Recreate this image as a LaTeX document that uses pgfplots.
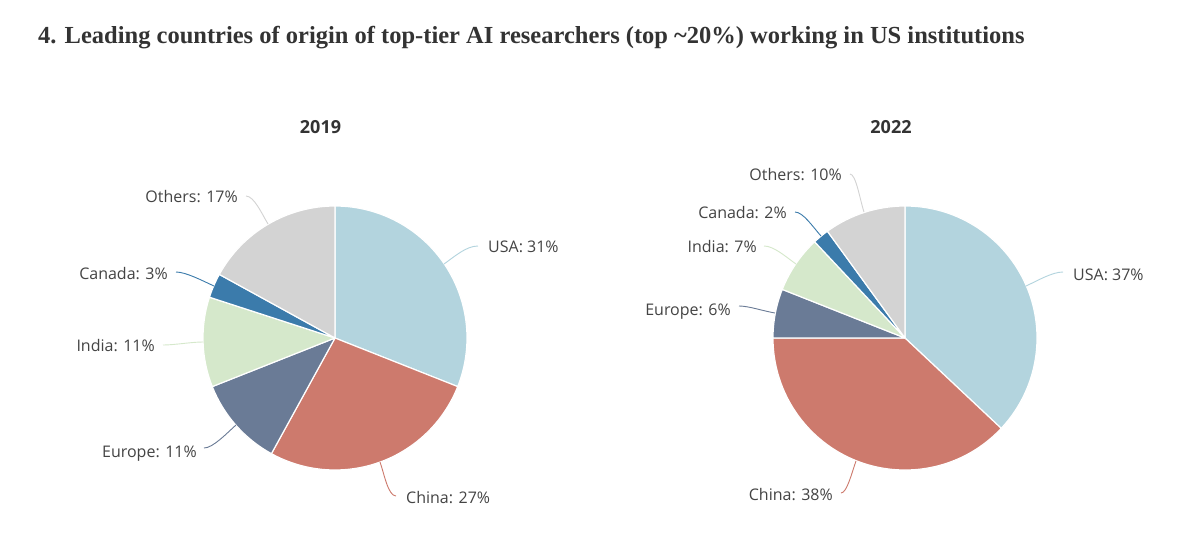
\documentclass[border=0pt]{standalone}
\usepackage{pgfplots}
\pgfplotsset{compat=1.18}
\usepackage{pgfplotstable}
\usepackage{fontspec}
\setmainfont{Open Sans}
\newfontfamily\titlefont{Liberation Serif}

\definecolor{pie0}{HTML}{B3D4DE}
\definecolor{pie1}{HTML}{CD7A6D}
\definecolor{pie2}{HTML}{6A7B96}
\definecolor{pie3}{HTML}{D5E8CB}
\definecolor{pie4}{HTML}{3B7BAB}
\definecolor{pie5}{HTML}{D3D3D3}
\definecolor{txt}{HTML}{444444}
\definecolor{ttl}{HTML}{333333}

% 2019
\pgfplotstableread{
name val
USA 31
China 27
Europe 11
India 11
Canada 3
Others 17
}\pieA
% 2022
\pgfplotstableread{
name val
USA 37
China 38
Europe 6
India 7
Canada 2
Others 10
}\pieB

\newcommand\drawpie[3]{%
  \pgfplotstablegetrowsof{#1}%
  \pgfmathtruncatemacro\pieN{\pgfplotsretval-1}%
  \def\piecum{0}%
  \pgfplotsforeachungrouped \i in {0,...,\pieN}{%
    \pgfplotstablegetelem{\i}{val}\of#1%
    \let\pieval\pgfplotsretval
    \pgfmathsetmacro\piea{90-3.6*\piecum}%
    \pgfmathsetmacro\piecum{\piecum+\pieval}%
    \pgfmathsetmacro\pieb{90-3.6*\piecum}%
    \edef\pietmp{\noexpand\fill[pie\i, draw=white, line width=1.2bp, line join=round] (axis cs:#2,#3) -- ++(\piea:132bp) arc[start angle=\piea, end angle=\pieb, radius=132bp] -- cycle;}%
    \pietmp
  }%
}

\begin{document}
\begin{tikzpicture}
\useasboundingbox[fill=white] (0,0) rectangle (1200bp,550bp);
\begin{axis}[at={(0,0)}, anchor=south west, scale only axis,
  width=1200bp, height=550bp, xmin=0, xmax=1200, ymin=0, ymax=550,
  y dir=reverse, hide axis, clip=false]
\drawpie{\pieA}{335}{338}
\drawpie{\pieB}{905}{338}

\tikzset{lbl/.style={font=\fontsize{16bp}{18bp}\selectfont, text=txt, inner sep=0pt},
         ld/.style={line width=0.9bp}}
% 2019 leaders
\draw[ld,pie0] (axis cs:444,264) .. controls (axis cs:454,257) and (axis cs:466,246) .. (axis cs:478,246);
\draw[ld,pie1] (axis cs:380,462) .. controls (axis cs:384,473) and (axis cs:388,496) .. (axis cs:396,496);
\draw[ld,pie2] (axis cs:236,425) .. controls (axis cs:227,433) and (axis cs:213,448) .. (axis cs:204,448);
\draw[ld,pie3] (axis cs:203,342) .. controls (axis cs:191,342) and (axis cs:175,345) .. (axis cs:163,345);
\draw[ld,pie4] (axis cs:214,286) .. controls (axis cs:203,281) and (axis cs:186,272) .. (axis cs:176,272);
\draw[ld,pie5] (axis cs:268,224) .. controls (axis cs:262,214) and (axis cs:254,196) .. (axis cs:246,196);
% 2019 labels
\node[lbl, anchor=base west] at (axis cs:488,252) {USA: 31\%};
\node[lbl, anchor=base west] at (axis cs:406,503) {China: 27\%};
\node[lbl, anchor=base east] at (axis cs:197,457) {Europe: 11\%};
\node[lbl, anchor=base east] at (axis cs:155,351) {India: 11\%};
\node[lbl, anchor=base east] at (axis cs:168,279) {Canada: 3\%};
\node[lbl, anchor=base east] at (axis cs:238,202) {Others: 17\%};

% 2022 leaders
\draw[ld,pie0] (axis cs:1026,286) .. controls (axis cs:1037,281) and (axis cs:1052,272) .. (axis cs:1063,272);
\draw[ld,pie1] (axis cs:856,461) .. controls (axis cs:852,472) and (axis cs:847,493) .. (axis cs:841,493);
\draw[ld,pie2] (axis cs:775,313) .. controls (axis cs:763,311) and (axis cs:749,306) .. (axis cs:739,306);
\draw[ld,pie3] (axis cs:796,264) .. controls (axis cs:786,257) and (axis cs:774,246) .. (axis cs:764,246);
\draw[ld,pie4] (axis cs:821,236) .. controls (axis cs:813,227) and (axis cs:803,212) .. (axis cs:795,212);
\draw[ld,pie5] (axis cs:864,212) .. controls (axis cs:860,200) and (axis cs:856,174) .. (axis cs:850,174);
% 2022 labels
\node[lbl, anchor=base west] at (axis cs:1073,280) {USA: 37\%};
\node[lbl, anchor=base east] at (axis cs:833,500) {China: 38\%};
\node[lbl, anchor=base east] at (axis cs:731,315) {Europe: 6\%};
\node[lbl, anchor=base east] at (axis cs:757,252) {India: 7\%};
\node[lbl, anchor=base east] at (axis cs:787,218) {Canada: 2\%};
\node[lbl, anchor=base east] at (axis cs:842,180) {Others: 10\%};

% subtitles
\node[font=\bfseries\fontsize{18bp}{20bp}\selectfont, text=ttl, inner sep=0pt, anchor=base] at (axis cs:320.5,133) {2019};
\node[font=\bfseries\fontsize{18bp}{20bp}\selectfont, text=ttl, inner sep=0pt, anchor=base] at (axis cs:891,133) {2022};
% title
\node[font=\titlefont\bfseries\fontsize{24.5bp}{28bp}\selectfont, text=ttl, inner sep=0pt, anchor=base west] at (axis cs:38,43) {4. Leading countries of origin of top-tier AI researchers (top \textasciitilde20\%) working in US institutions};
\end{axis}
\end{tikzpicture}
\end{document}
